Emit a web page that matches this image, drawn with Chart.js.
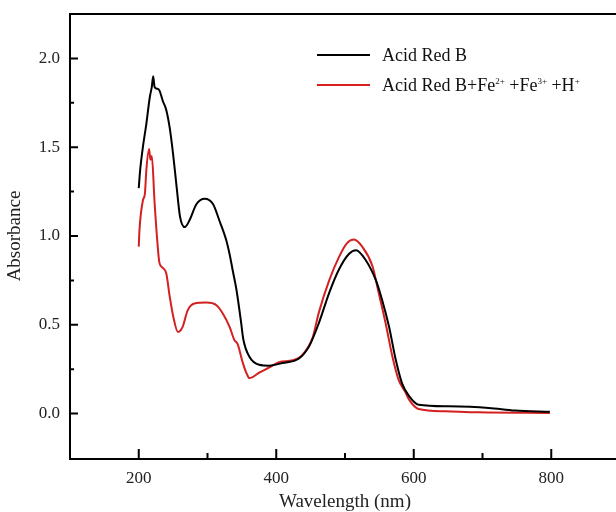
<!DOCTYPE html>
<html>
<head>
<meta charset="utf-8">
<script src="https://cdn.jsdelivr.net/npm/chart.js@4.4.0/dist/chart.umd.min.js"></script>
<style>
html, body { margin: 0; padding: 0; background: #fff; overflow: hidden; }
#wrap { position: relative; width: 624px; height: 512px; }
.leg-line { position: absolute; height: 2px; width: 53px; left: 317px; }
.leg-text { position: absolute; left: 382px; font-family: "Liberation Serif", serif; font-size: 18px; line-height: 20px; color: #111; white-space: nowrap; }
.leg-text sup { font-size: 9px; vertical-align: 7px; line-height: 0; }
</style>
</head>
<body>
<div id="wrap">
  <canvas id="uv-graph" width="624" height="512"></canvas>
  <div class="leg-line" style="top:54px;background:#000;"></div>
  <div class="leg-text" style="top:45px;">Acid Red B</div>
  <div class="leg-line" style="top:84px;background:#d42020;"></div>
  <div class="leg-text" style="top:75px;">Acid Red B+Fe<sup>2+</sup> +Fe<sup>3+</sup> +H<sup>+</sup></div>
</div>
<script>
// wavelength (nm) / absorbance
var blackX = [200,202,206,211,216,219,221,223,226,230,235,240,245,250,255,260,267,274,284,296,308,317,327,332,337,342,349,352,361,375,390,409,433,448,462,477,491,506,516,530,545,554,564,574,583,593,607,651,709,747,798];
var blackY = [1.27,1.37,1.50,1.63,1.78,1.84,1.90,1.84,1.83,1.82,1.76,1.71,1.61,1.46,1.28,1.11,1.05,1.09,1.18,1.21,1.18,1.09,0.98,0.90,0.80,0.70,0.51,0.42,0.32,0.275,0.27,0.285,0.31,0.38,0.51,0.68,0.81,0.90,0.92,0.865,0.75,0.64,0.49,0.30,0.17,0.10,0.05,0.041,0.032,0.017,0.01];

var redX = [200,201,206,209,211,215,217,219,223,227,230,235,240,245,250,257,264,271,281,298,313,322,332,339,344,351,357,361,375,390,404,424,438,453,462,477,491,503,513,525,540,549,559,569,578,588,593,607,646,694,798];
var redY = [0.94,1.03,1.20,1.24,1.37,1.49,1.43,1.45,1.19,0.97,0.85,0.82,0.79,0.66,0.55,0.46,0.49,0.58,0.62,0.625,0.61,0.565,0.49,0.415,0.39,0.29,0.225,0.20,0.23,0.26,0.29,0.30,0.33,0.43,0.57,0.75,0.88,0.96,0.98,0.94,0.83,0.68,0.51,0.32,0.19,0.12,0.08,0.026,0.013,0.007,0.004];

var xMajor = [200, 400, 600, 800];
var xMinor = [300, 500, 700];
var yMajor = [0, 0.5, 1.0, 1.5, 2.0];
var yMinor = [0.25, 0.75, 1.25, 1.75];

function pts(xs, ys) {
	return xs.map(function(x, i) { return {x: x, y: ys[i]}; });
}

var serif = "'Liberation Serif', 'Times New Roman', serif";

// frame + inward tick marks
var frameTicks = {
	id: 'frameTicks',
	afterDraw: function(chart) {
		var ctx = chart.ctx, a = chart.chartArea;
		var xs = chart.scales.x, ys = chart.scales.y;
		ctx.save();
		ctx.strokeStyle = '#000';
		ctx.lineWidth = 2;
		ctx.beginPath();
		ctx.moveTo(a.left, a.top);
		ctx.lineTo(a.right, a.top);
		ctx.moveTo(a.left, a.top - 1);
		ctx.lineTo(a.left, a.bottom + 1);
		ctx.lineTo(a.right, a.bottom + 1);
		xMajor.forEach(function(v) {
			var p = xs.getPixelForValue(v);
			ctx.moveTo(p, a.bottom); ctx.lineTo(p, a.bottom - 9);
		});
		xMinor.forEach(function(v) {
			var p = xs.getPixelForValue(v);
			ctx.moveTo(p, a.bottom); ctx.lineTo(p, a.bottom - 5);
		});
		yMajor.forEach(function(v) {
			var p = ys.getPixelForValue(v);
			ctx.moveTo(a.left, p); ctx.lineTo(a.left + 8, p);
		});
		yMinor.forEach(function(v) {
			var p = ys.getPixelForValue(v);
			ctx.moveTo(a.left, p); ctx.lineTo(a.left + 4, p);
		});
		ctx.stroke();
		ctx.restore();
	}
};

var uvctx = document.getElementById("uv-graph");
var uvChart = new Chart(uvctx, {
	type: 'line',
	data: {
		datasets: [{
			label: 'Acid Red B',
			data: pts(blackX, blackY),
			borderColor: '#000',
			borderWidth: 2,
			pointRadius: 0,
			cubicInterpolationMode: 'monotone',
			fill: false
		}, {
			label: 'Acid Red B+Fe2+ +Fe3+ +H+',
			data: pts(redX, redY),
			borderColor: '#d42020',
			borderWidth: 2,
			pointRadius: 0,
			cubicInterpolationMode: 'monotone',
			fill: false
		}]
	},
	options: {
		responsive: false,
		animation: false,
		layout: { padding: { left: 0, right: 4, top: 14, bottom: 0 } },
		plugins: {
			legend: { display: false },
			tooltip: { enabled: false }
		},
		scales: {
			x: {
				type: 'linear',
				min: 100,
				max: 900,
				afterBuildTicks: function(s) { s.ticks = xMajor.map(function(v) { return {value: v}; }); },
				afterFit: function(s) { s.height = 512 - 458; s.paddingLeft = 0; s.paddingRight = 0; },
				grid: { display: false, drawTicks: false },
				border: { display: false },
				ticks: { padding: 10, color: '#222', font: { family: serif, size: 17 } },
				title: { display: true, text: 'Wavelength (nm)', color: '#222', padding: 0, font: { family: serif, size: 19, lineHeight: 1 } }
			},
			y: {
				min: -0.25,
				max: 2.25,
				afterBuildTicks: function(s) { s.ticks = yMajor.map(function(v) { return {value: v}; }); },
				afterFit: function(s) { s.width = 70; s.paddingTop = 0; s.paddingBottom = 0; },
				grid: { display: false, drawTicks: false },
				border: { display: false },
				ticks: { padding: 10, color: '#222', font: { family: serif, size: 17 },
					callback: function(v) { return v.toFixed(1); } },
				title: { display: true, text: 'Absorbance', color: '#222', padding: { top: 6, bottom: 0 }, font: { family: serif, size: 19, lineHeight: 1 } }
			}
		}
	},
	plugins: [frameTicks]
});
</script>
</body>
</html>
